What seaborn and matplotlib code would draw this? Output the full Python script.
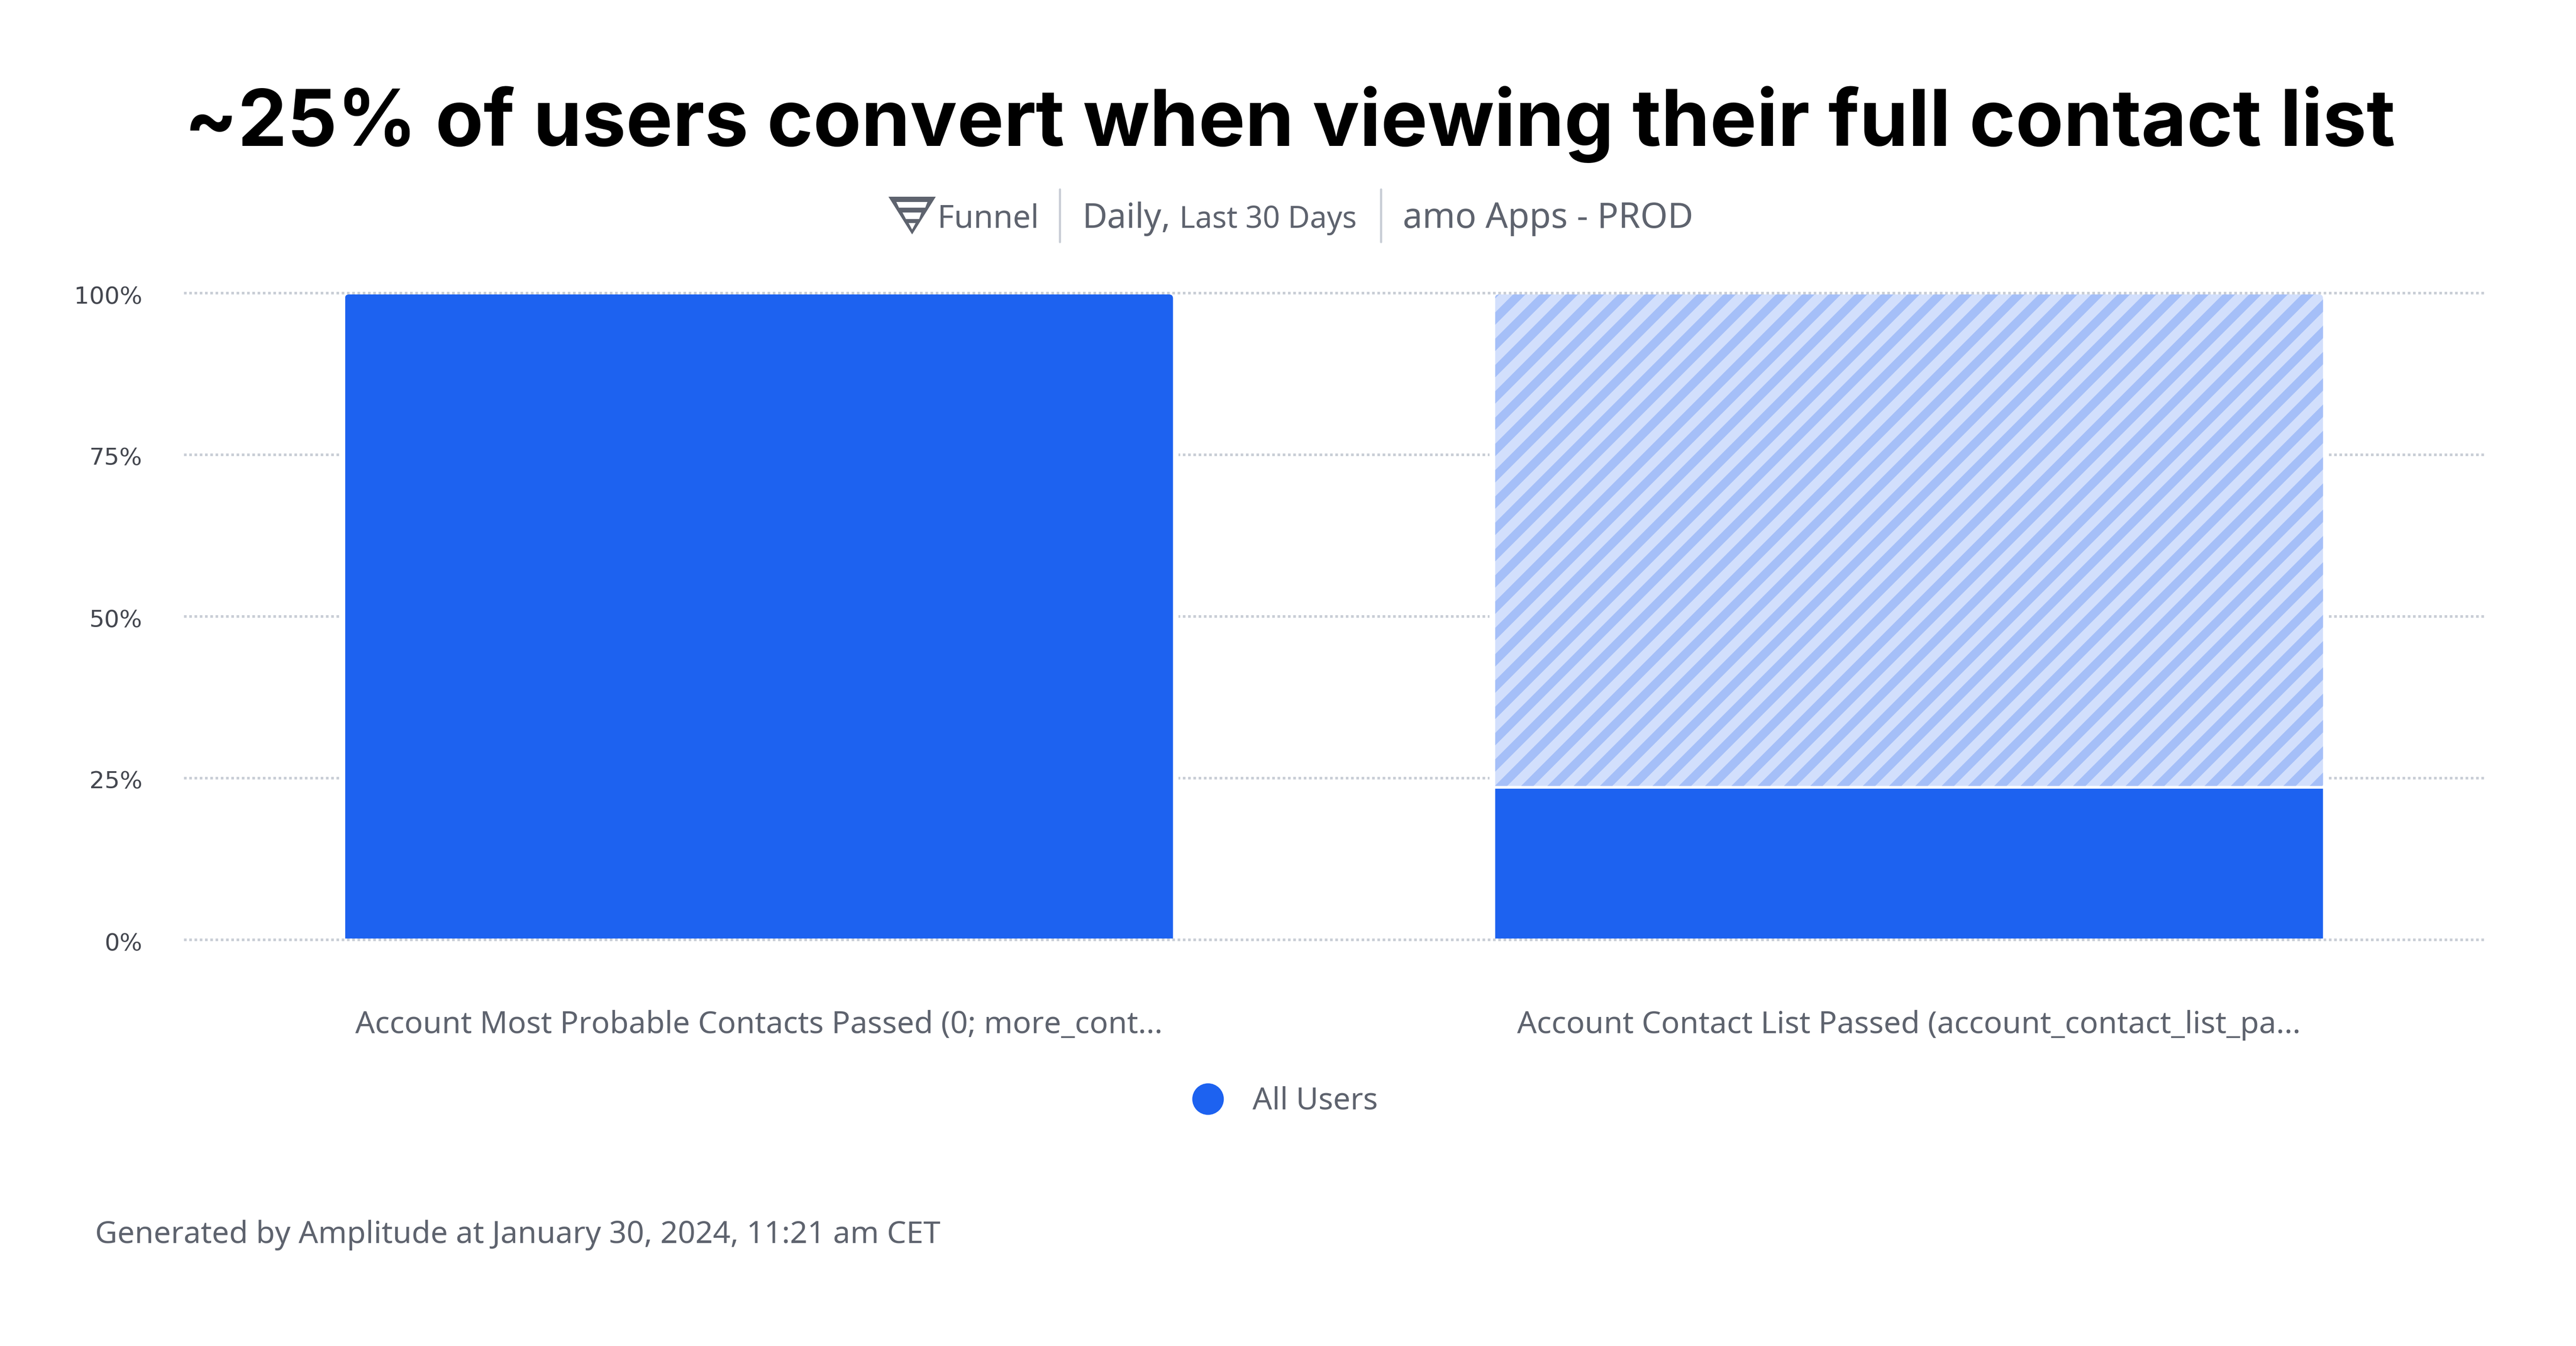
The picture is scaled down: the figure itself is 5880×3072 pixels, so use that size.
import numpy as np
import pandas as pd
import matplotlib.pyplot as plt
import seaborn as sns
from matplotlib.lines import Line2D
from matplotlib.patches import Polygon
from matplotlib.path import Path
from matplotlib.transforms import IdentityTransform, ScaledTranslation

# chart values
steps = ["Account Most Probable Contacts Passed (0; more_cont...",
         "Account Contact List Passed (account_contact_list_pa..."]
converted = [100.0, 23.4]
dropped = [0.0, 76.6]
y_ticks = [0, 25, 50, 75, 100]
y_labels = ["0%", "25%", "50%", "75%", "100%"]

BLUE = "#1D62F0"
STRIPE_DARK = "#A5BFF8"
STRIPE_LIGHT = "#D2DFFC"
GRID = "#C9CED6"
TEXT = "#5E636E"

W, H = 5880, 3072
DPI = 360

sns.set_theme(style="white")
plt.rcParams["font.family"] = ["Noto Sans", "DejaVu Sans"]
plt.rcParams["hatch.linewidth"] = 4.0

fig = plt.figure(figsize=(W / DPI, H / DPI), dpi=DPI, facecolor="white")
ax = fig.add_axes([420 / W, 1 - 2145 / H, 5250 / W, 1476 / H])


def fx(x):
    return x / W


def fy(y):
    return 1 - y / H


def top_rounded(bar, r, inset_top, inset_bottom):
    # clip path for a bar, only the top corners are rounded
    box = bar.get_window_extent()
    x0, x1 = box.x0, box.x1
    y0, y1 = box.y0 + inset_bottom, box.y1 - inset_top
    verts = [(x0, y0), (x0, y1 - r), (x0, y1), (x0 + r, y1), (x1 - r, y1),
             (x1, y1), (x1, y1 - r), (x1, y0), (x0, y0)]
    codes = [Path.MOVETO, Path.LINETO, Path.CURVE3, Path.CURVE3, Path.LINETO,
             Path.CURVE3, Path.CURVE3, Path.LINETO, Path.CLOSEPOLY]
    bar.set_clip_path(Path(verts, codes), IdentityTransform())


def icon_part(points, color):
    fig.add_artist(Polygon([(fx(x), fy(y)) for x, y in points], closed=True,
                           facecolor=color, edgecolor="none"))


# white band around the bars, it cuts the grid lines
sns.barplot(x=steps, y=[100, 100], order=steps, color="white", saturation=1,
            width=0.7292, linewidth=0, zorder=2, ax=ax)

# solid part
sns.barplot(x=steps, y=converted, order=steps, color=BLUE, saturation=1,
            width=0.72, linewidth=0, zorder=4, ax=ax)
solid = list(ax.containers[-1])

# striped part, a thin white gap above the solid part
gap = 0.4
striped = pd.DataFrame({"step": steps, "value": dropped, "base": converted})
striped = striped[striped["value"] > 0]
sns.barplot(data=striped, x="step", y=np.array(striped["value"]) - gap,
            bottom=np.array(striped["base"]) + gap, order=steps,
            color=STRIPE_LIGHT, saturation=1, width=0.72, linewidth=0,
            zorder=4, ax=ax)
stripes = list(ax.containers[-1])
for bar in stripes:
    bar.set_hatch("//")
    bar.set_edgecolor(STRIPE_DARK)
    bar.set_linewidth(0)

ax.set_xlim(-0.5, 1.5)
ax.set_ylim(0, 100)
ax.set_xlabel("")
ax.set_ylabel("")
ax.set_yticks(y_ticks)
ax.set_yticklabels(y_labels)
ax.set_axisbelow(True)
ax.yaxis.grid(True, color=GRID, linewidth=1.2, linestyle=(0, (1, 1)))
ax.xaxis.grid(False)
for value in (0, 100):
    ax.axhline(value, color=GRID, linewidth=1.2, linestyle=(0, (1, 1)),
               zorder=3, clip_on=False)
sns.despine(ax=ax, left=True, bottom=True)
ax.tick_params(axis="y", length=0, pad=19, labelsize=10.9, labelcolor="#44474F")
ax.tick_params(axis="x", length=0, pad=32, labelsize=14.0, labelcolor=TEXT)
# percent labels sit a little under their grid line
shift = ScaledTranslation(0, -3 / DPI, fig.dpi_scale_trans)
for tick in ax.yaxis.get_major_ticks():
    tick.label1.set_family("DejaVu Sans")
    tick.label1.set_transform(tick.label1.get_transform() + shift)

fig.canvas.draw()
top_rounded(solid[0], 9, 3, 3)
top_rounded(solid[1], 0.01, 0, 3)
top_rounded(stripes[0], 9, 3, 0)

# title and subtitle row
fig.text(fx(2944), fy(284), "~25% of users convert when viewing their full contact list",
         family="Inter", weight="bold", fontsize=35.8, color="black",
         ha="center", va="center")
fig.text(fx(2140), fy(520), "Funnel", fontsize=14.5, color=TEXT, va="baseline")
fig.text(fx(2471), fy(520), "Daily,", fontsize=15.6, color=TEXT, va="baseline")
fig.text(fx(2692), fy(520), "Last 30 Days", fontsize=13.8, color=TEXT, va="baseline")
fig.text(fx(3202), fy(520), "amo Apps - PROD", fontsize=16, color=TEXT, va="baseline")
for sep_x in (2419, 3152):
    fig.add_artist(Line2D([fx(sep_x)] * 2, [fy(432), fy(552)], color=GRID, lw=1.0))

# funnel icon
icon_part([(2028, 449), (2136, 449), (2082, 535)], TEXT)
icon_part([(2046, 461), (2117, 461), (2112, 474), (2052, 474)], "white")
icon_part([(2060, 485), (2103, 485), (2098, 500), (2068, 500)], "white")
icon_part([(2074, 509), (2090, 509), (2082, 524)], "white")

# legend
handle = Line2D([], [], linestyle="none", marker="o", markersize=14.4,
                markerfacecolor=BLUE, markeredgewidth=0, label="All Users")
fig.legend(handles=[handle], loc="center", bbox_to_anchor=(fx(2916), fy(2514)),
           frameon=False, fontsize=14, labelcolor=TEXT, handletextpad=0.47)

# footer
fig.text(fx(217), fy(2819), "Generated by Amplitude at January 30, 2024, 11:21 am CET",
         fontsize=14, color=TEXT, va="center")

fig.savefig("out.png", dpi=DPI, facecolor="white")
plt.close(fig)
